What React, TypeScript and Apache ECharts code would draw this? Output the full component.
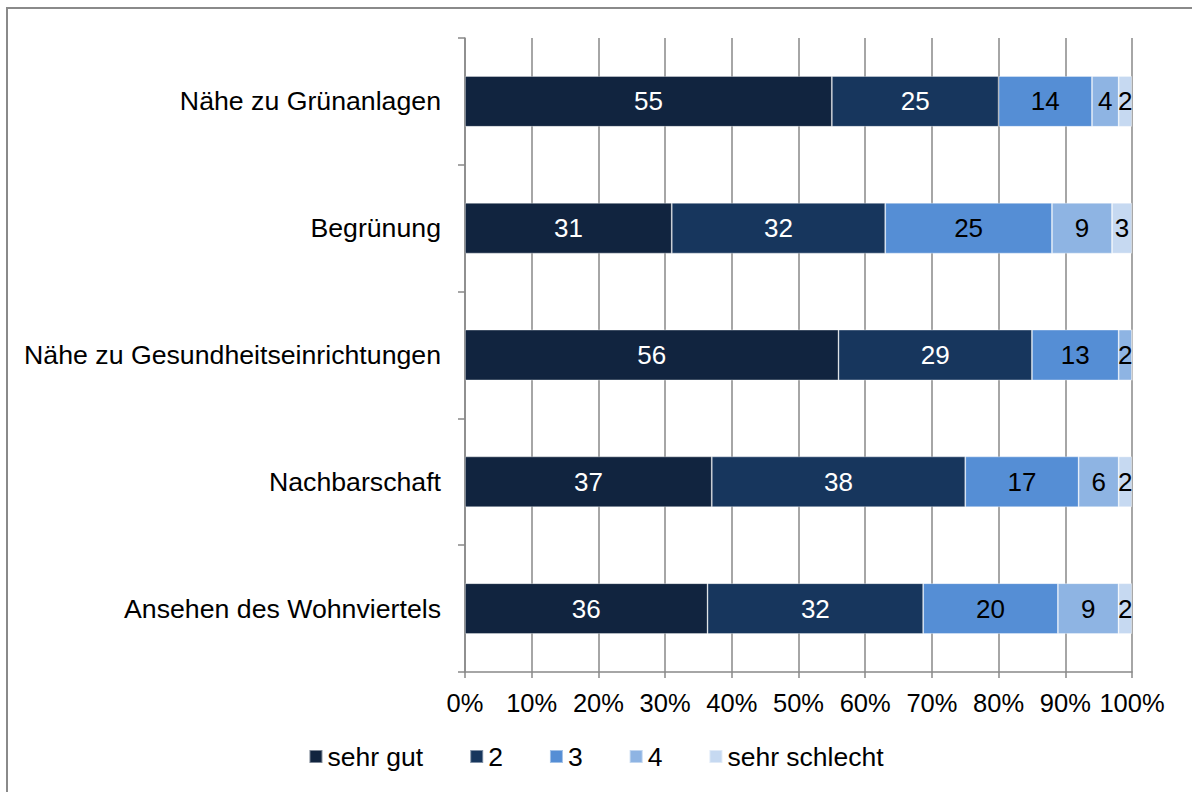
import React, { useEffect, useRef } from "react";
import * as echarts from "echarts";

const categories = [
  "Nähe zu Grünanlagen",
  "Begrünung",
  "Nähe zu Gesundheitseinrichtungen",
  "Nachbarschaft",
  "Ansehen des Wohnviertels",
];
const seriesNames = ["sehr gut", "2", "3", "4", "sehr schlecht"];
const sehrGut = [55, 31, 56, 37, 36];
const zwei = [25, 32, 29, 38, 32];
const drei = [14, 25, 13, 17, 20];
const vier = [4, 9, 2, 6, 9];
const sehrSchlecht = [2, 3, 0, 2, 2];
const xTicks = [0, 10, 20, 30, 40, 50, 60, 70, 80, 90, 100];

const colors = ["#11243F", "#17365D", "#558ED5", "#8EB4E3", "#C6D9F1"];
const labelColors = ["#ffffff", "#ffffff", "#000000", "#000000", "#000000"];

export default function App() {
  const ref = useRef<HTMLDivElement>(null);
  useEffect(() => {
    document.body.style.margin = "0";
    const chart = echarts.init(ref.current!, null, { renderer: "svg" });
    const raw = [sehrGut, zwei, drei, vier, sehrSchlecht];
    const totals = categories.map((_, i) => raw.reduce((s, arr) => s + arr[i], 0));
    const font = "'Liberation Sans', Arial, sans-serif";
    chart.setOption({
      animation: false,
      textStyle: { fontFamily: font },
      graphic: [
        {
          type: "rect",
          shape: { x: 7, y: 8, width: 1200, height: 800 },
          style: { fill: "none", stroke: "#8a8a8a", lineWidth: 2 },
          silent: true,
        },
      ],
      grid: { left: 465, right: 60, top: 38, bottom: 120, containLabel: false },
      legend: {
        data: seriesNames,
        left: "center",
        top: 738,
        itemWidth: 13,
        itemHeight: 13,
        itemGap: 46,
        icon: "rect",
        textStyle: { fontSize: 26.5, color: "#000", fontFamily: font },
      },
      xAxis: {
        type: "value",
        min: 0,
        max: 100,
        interval: 10,
        axisLine: { show: true, lineStyle: { color: "#898989", width: 1.5 } },
        axisTick: { show: true, length: 6, lineStyle: { color: "#898989", width: 1.5 } },
        splitLine: { show: true, lineStyle: { color: "#898989", width: 1.5 } },
        axisLabel: {
          formatter: (v: number) => (xTicks.includes(v) ? v + "%" : ""),
          fontSize: 25.5,
          color: "#000",
          margin: 18,
          fontFamily: font,
        },
      },
      yAxis: {
        type: "category",
        inverse: true,
        data: categories,
        axisLine: { show: true, lineStyle: { color: "#898989", width: 1.5 } },
        axisTick: { show: true, length: 7, lineStyle: { color: "#898989", width: 1.5 } },
        axisLabel: { fontSize: 26.7, color: "#000", margin: 24, fontFamily: font },
      },
      series: raw.map((arr, si) => ({
        name: seriesNames[si],
        type: "bar",
        stack: "total",
        barCategoryGap: "60%",
        itemStyle: { color: colors[si], borderColor: "rgba(255,255,255,0.45)", borderWidth: 0.8 },
        label: {
          show: true,
          position: "inside",
          color: labelColors[si],
          fontSize: 26,
          fontFamily: font,
          formatter: (p: any) => (arr[p.dataIndex] > 0 ? String(arr[p.dataIndex]) : ""),
        },
        data: arr.map((v, i) => (v / totals[i]) * 100),
      })),
    });
    return () => chart.dispose();
  }, []);
  return <div ref={ref} style={{ width: 1192, height: 792 }} />;
}
